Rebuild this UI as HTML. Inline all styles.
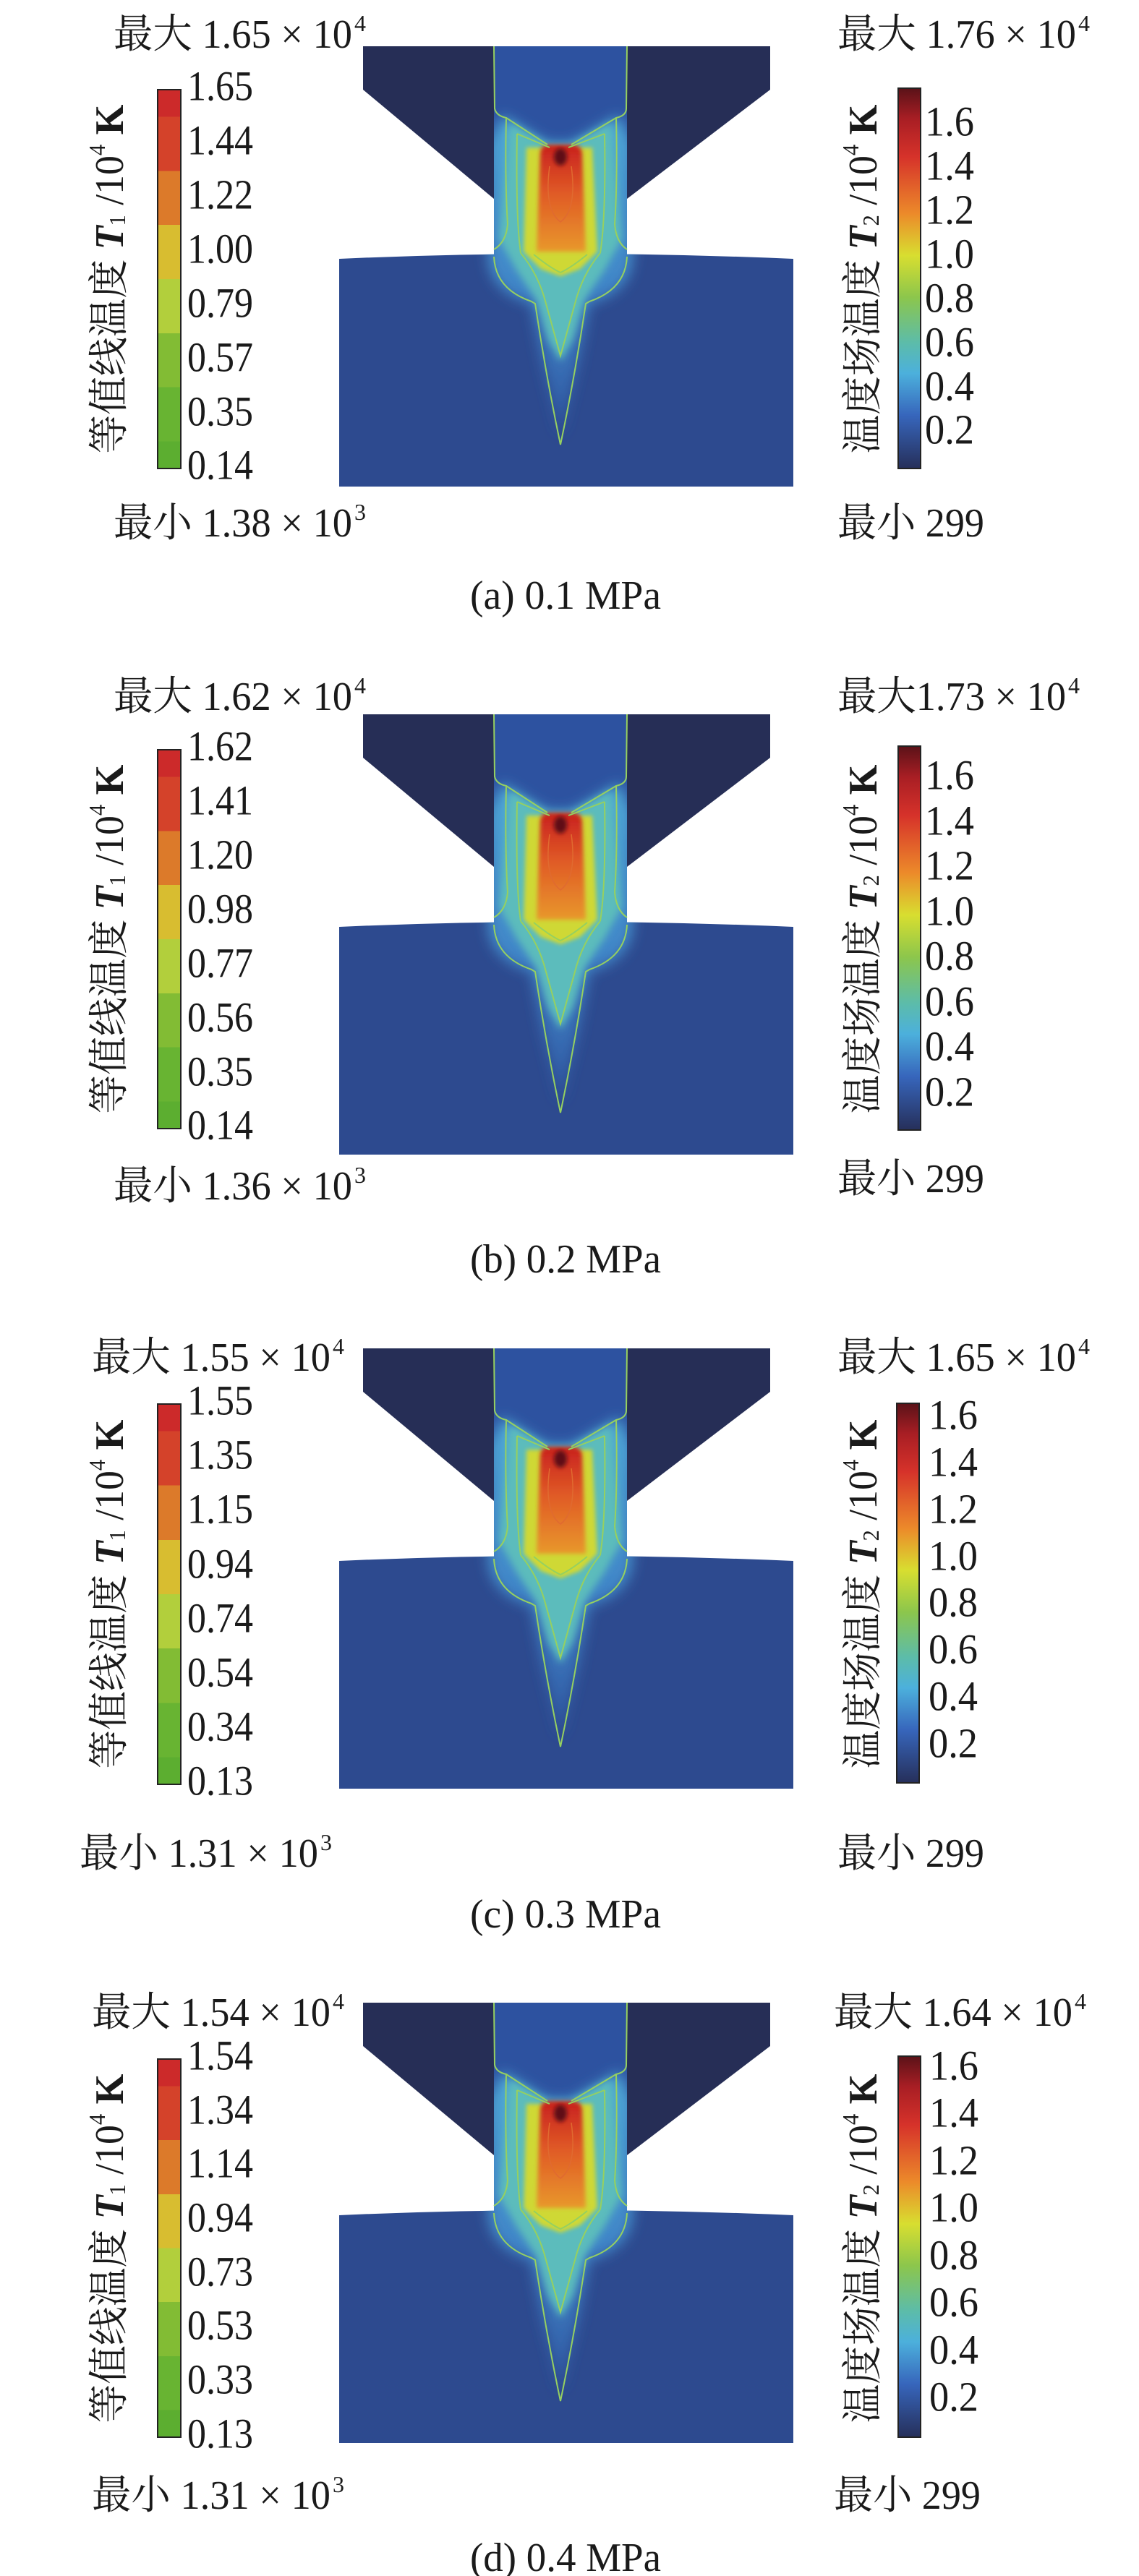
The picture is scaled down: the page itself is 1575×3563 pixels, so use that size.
<!DOCTYPE html>
<html><head><meta charset="utf-8"><style>
html,body{margin:0;padding:0;background:#fff;}
svg{display:block;}
text{font-family:"Liberation Serif","Noto Serif CJK SC",serif;fill:#1a1a1a;}
</style></head><body>
<svg width="1575" height="3563" viewBox="0 0 1575 3563" xmlns="http://www.w3.org/2000/svg">
<defs>
<filter id="b8" x="-50%" y="-50%" width="200%" height="200%"><feGaussianBlur stdDeviation="9"/></filter>
<filter id="b5" x="-50%" y="-50%" width="200%" height="200%"><feGaussianBlur stdDeviation="5"/></filter>
<filter id="b3" x="-50%" y="-50%" width="200%" height="200%"><feGaussianBlur stdDeviation="3"/></filter>
<clipPath id="dom"><rect x="683" y="64" width="184" height="290"/><path d="M469,358 Q775,344 1097,358 L1097,673 L469,673 Z"/></clipPath>
<linearGradient id="lb" x1="0" y1="0" x2="0" y2="1">
<stop offset="0" stop-color="#cc2a2a"/><stop offset="0.0714" stop-color="#cc2a2a"/>
<stop offset="0.0714" stop-color="#d4422a"/><stop offset="0.2143" stop-color="#d4422a"/>
<stop offset="0.2143" stop-color="#dc7a2a"/><stop offset="0.3571" stop-color="#dc7a2a"/>
<stop offset="0.3571" stop-color="#d8bd30"/><stop offset="0.5" stop-color="#d8bd30"/>
<stop offset="0.5" stop-color="#b2cf3c"/><stop offset="0.6429" stop-color="#b2cf3c"/>
<stop offset="0.6429" stop-color="#82bc34"/><stop offset="0.7857" stop-color="#82bc34"/>
<stop offset="0.7857" stop-color="#68b432"/><stop offset="0.9286" stop-color="#68b432"/>
<stop offset="0.9286" stop-color="#5cae30"/><stop offset="1" stop-color="#5cae30"/>
</linearGradient>
<linearGradient id="rb" x1="0" y1="0" x2="0" y2="1">
<stop offset="0" stop-color="#5a1218"/><stop offset="0.08" stop-color="#a81e24"/>
<stop offset="0.18" stop-color="#d6322a"/><stop offset="0.33" stop-color="#ec8a2a"/>
<stop offset="0.44" stop-color="#d8de30"/><stop offset="0.55" stop-color="#8cc64c"/>
<stop offset="0.67" stop-color="#5cbcaa"/><stop offset="0.75" stop-color="#4cb0dc"/>
<stop offset="0.86" stop-color="#3766bc"/><stop offset="1" stop-color="#262f5a"/>
</linearGradient>
<linearGradient id="core" x1="0" y1="0" x2="0" y2="1">
<stop offset="0" stop-color="#c8201e"/><stop offset="0.45" stop-color="#e05a26"/><stop offset="1" stop-color="#e8982c"/>
</linearGradient>
<linearGradient id="tail" x1="0" y1="0" x2="0" y2="1">
<stop offset="0" stop-color="#4fa8d6"/><stop offset="0.6" stop-color="#3f82c6"/><stop offset="1" stop-color="#2f56a0"/>
</linearGradient>
<g id="sim">
<path d="M469,358 Q775,344 1097,358 L1097,673 L469,673 Z" fill="#2d4a8f"/>
<path d="M502,64 L1065,64 L1065,124 L867,275 L867,350 L683,350 L683,275 L502,124 Z" fill="#262e56"/>
<rect x="683" y="64" width="184" height="288" fill="#2d52a0"/>
<g clip-path="url(#dom)">
<path d="M695,160 L757,198 L790,198 L856,160 L875,200 L875,360 Q870,405 815,420 L800,500 L775,600 L750,500 L735,420 Q680,405 675,360 L675,200 Z" fill="url(#tail)" filter="url(#b8)"/>
<path d="M705,170 L757,200 L790,200 L845,170 L860,330 L835,375 L808,415 L792,470 L775,500 L758,470 L742,415 L715,375 L690,330 Z" fill="#5cbcbc" filter="url(#b5)"/>
<path d="M728,204 L819,204 L826,348 L802,372 L775,382 L748,372 L724,348 Z" fill="#cfd836" filter="url(#b3)"/>
<path d="M747,212 Q748,200 760,200 L790,200 Q804,200 805,212 L810,348 L742,348 Z" fill="url(#core)" filter="url(#b3)"/>
<ellipse cx="775" cy="217" rx="9" ry="12" fill="#5e1016" filter="url(#b3)"/>
</g>
<g fill="none" stroke="#96d060" stroke-width="2">
<path d="M683,64 L684,150 Q686,160 700,163 L757,200 M790,200 L852,163 Q866,160 866,150 L867,64"/>
<path d="M700,163 Q698,250 702,310 Q700,335 683,345 M852,163 Q854,250 850,310 Q852,335 867,345"/>
<path d="M715,185 L760,204 M786,204 L836,185 M715,185 Q713,300 720,350 M836,185 Q838,300 830,350"/>
<path d="M683,355 Q685,400 735,417 L740,420 Q755,520 775,615 Q795,520 810,420 L815,417 Q865,400 867,355"/>
<path d="M720,350 Q745,380 755,420 L775,492 L795,420 Q805,380 830,350"/>
<path d="M738,352 Q760,370 775,377 Q790,370 812,352"/>
<path d="M760,230 Q752,290 775,307 Q798,290 790,230" stroke="#e06a30" stroke-width="1.5"/>
</g>
</g>
</defs>

<!-- Panel a -->
<use href="#sim" y="0"/>
<text x="157" y="48" font-size="56" dominant-baseline="central" textLength="330" lengthAdjust="spacingAndGlyphs">最大 1.65 × 10</text><text x="490" y="32" font-size="32" dominant-baseline="central">4</text>
<text x="1158" y="48" font-size="56" dominant-baseline="central" textLength="330" lengthAdjust="spacingAndGlyphs">最大 1.76 × 10</text><text x="1491" y="32" font-size="32" dominant-baseline="central">4</text>
<rect x="218" y="124" width="32" height="524" fill="url(#lb)" stroke="#222" stroke-width="2"/>
<g font-size="58" dominant-baseline="central">
<text x="259" y="119" textLength="91" lengthAdjust="spacingAndGlyphs">1.65</text><text x="259" y="194" textLength="91" lengthAdjust="spacingAndGlyphs">1.44</text><text x="259" y="269" textLength="91" lengthAdjust="spacingAndGlyphs">1.22</text><text x="259" y="344" textLength="91" lengthAdjust="spacingAndGlyphs">1.00</text><text x="259" y="419" textLength="91" lengthAdjust="spacingAndGlyphs">0.79</text><text x="259" y="494" textLength="91" lengthAdjust="spacingAndGlyphs">0.57</text><text x="259" y="569" textLength="91" lengthAdjust="spacingAndGlyphs">0.35</text><text x="259" y="643" textLength="91" lengthAdjust="spacingAndGlyphs">0.14</text>
</g>
<rect x="1242" y="122" width="31" height="526" fill="url(#rb)" stroke="#222" stroke-width="2"/>
<g font-size="58" dominant-baseline="central">
<text x="1279" y="168" textLength="68" lengthAdjust="spacingAndGlyphs">1.6</text><text x="1279" y="229" textLength="68" lengthAdjust="spacingAndGlyphs">1.4</text><text x="1279" y="290" textLength="68" lengthAdjust="spacingAndGlyphs">1.2</text><text x="1279" y="351" textLength="68" lengthAdjust="spacingAndGlyphs">1.0</text><text x="1279" y="412" textLength="68" lengthAdjust="spacingAndGlyphs">0.8</text><text x="1279" y="473" textLength="68" lengthAdjust="spacingAndGlyphs">0.6</text><text x="1279" y="534" textLength="68" lengthAdjust="spacingAndGlyphs">0.4</text><text x="1279" y="594" textLength="68" lengthAdjust="spacingAndGlyphs">0.2</text>
</g>
<text transform="translate(152,386) rotate(-90)" font-size="56" text-anchor="middle" dominant-baseline="central" textLength="483" lengthAdjust="spacingAndGlyphs">等值线温度 <tspan font-style="italic" font-weight="bold">T</tspan><tspan font-size="32" dy="10">1</tspan><tspan dy="-10"> /10</tspan><tspan font-size="32" dy="-18">4</tspan><tspan dy="18" font-weight="bold"> K</tspan></text>
<text transform="translate(1194,386) rotate(-90)" font-size="56" text-anchor="middle" dominant-baseline="central" textLength="483" lengthAdjust="spacingAndGlyphs">温度场温度 <tspan font-style="italic" font-weight="bold">T</tspan><tspan font-size="32" dy="10">2</tspan><tspan dy="-10"> /10</tspan><tspan font-size="32" dy="-18">4</tspan><tspan dy="18" font-weight="bold"> K</tspan></text>
<text x="157" y="724" font-size="56" dominant-baseline="central" textLength="330" lengthAdjust="spacingAndGlyphs">最小 1.38 × 10</text><text x="490" y="708" font-size="32" dominant-baseline="central">3</text>
<text x="1158" y="724" font-size="56" dominant-baseline="central" textLength="203" lengthAdjust="spacingAndGlyphs">最小 299</text>
<text x="782" y="824" font-size="56" text-anchor="middle" dominant-baseline="central" textLength="264" lengthAdjust="spacingAndGlyphs">(a) 0.1 MPa</text>

<!-- Panel b -->
<use href="#sim" y="924"/>
<text x="157" y="964" font-size="56" dominant-baseline="central" textLength="330" lengthAdjust="spacingAndGlyphs">最大 1.62 × 10</text><text x="490" y="948" font-size="32" dominant-baseline="central">4</text>
<text x="1158" y="964" font-size="56" dominant-baseline="central" textLength="316" lengthAdjust="spacingAndGlyphs">最大1.73 × 10</text><text x="1477" y="948" font-size="32" dominant-baseline="central">4</text>
<rect x="218" y="1037" width="32" height="524" fill="url(#lb)" stroke="#222" stroke-width="2"/>
<g font-size="58" dominant-baseline="central">
<text x="259" y="1032" textLength="91" lengthAdjust="spacingAndGlyphs">1.62</text><text x="259" y="1107" textLength="91" lengthAdjust="spacingAndGlyphs">1.41</text><text x="259" y="1182" textLength="91" lengthAdjust="spacingAndGlyphs">1.20</text><text x="259" y="1257" textLength="91" lengthAdjust="spacingAndGlyphs">0.98</text><text x="259" y="1332" textLength="91" lengthAdjust="spacingAndGlyphs">0.77</text><text x="259" y="1407" textLength="91" lengthAdjust="spacingAndGlyphs">0.56</text><text x="259" y="1482" textLength="91" lengthAdjust="spacingAndGlyphs">0.35</text><text x="259" y="1556" textLength="91" lengthAdjust="spacingAndGlyphs">0.14</text>
</g>
<rect x="1242" y="1032" width="31" height="531" fill="url(#rb)" stroke="#222" stroke-width="2"/>
<g font-size="58" dominant-baseline="central">
<text x="1279" y="1072" textLength="68" lengthAdjust="spacingAndGlyphs">1.6</text><text x="1279" y="1135" textLength="68" lengthAdjust="spacingAndGlyphs">1.4</text><text x="1279" y="1197" textLength="68" lengthAdjust="spacingAndGlyphs">1.2</text><text x="1279" y="1260" textLength="68" lengthAdjust="spacingAndGlyphs">1.0</text><text x="1279" y="1322" textLength="68" lengthAdjust="spacingAndGlyphs">0.8</text><text x="1279" y="1385" textLength="68" lengthAdjust="spacingAndGlyphs">0.6</text><text x="1279" y="1447" textLength="68" lengthAdjust="spacingAndGlyphs">0.4</text><text x="1279" y="1510" textLength="68" lengthAdjust="spacingAndGlyphs">0.2</text>
</g>
<text transform="translate(152,1299) rotate(-90)" font-size="56" text-anchor="middle" dominant-baseline="central" textLength="483" lengthAdjust="spacingAndGlyphs">等值线温度 <tspan font-style="italic" font-weight="bold">T</tspan><tspan font-size="32" dy="10">1</tspan><tspan dy="-10"> /10</tspan><tspan font-size="32" dy="-18">4</tspan><tspan dy="18" font-weight="bold"> K</tspan></text>
<text transform="translate(1194,1299) rotate(-90)" font-size="56" text-anchor="middle" dominant-baseline="central" textLength="483" lengthAdjust="spacingAndGlyphs">温度场温度 <tspan font-style="italic" font-weight="bold">T</tspan><tspan font-size="32" dy="10">2</tspan><tspan dy="-10"> /10</tspan><tspan font-size="32" dy="-18">4</tspan><tspan dy="18" font-weight="bold"> K</tspan></text>
<text x="157" y="1641" font-size="56" dominant-baseline="central" textLength="330" lengthAdjust="spacingAndGlyphs">最小 1.36 × 10</text><text x="490" y="1625" font-size="32" dominant-baseline="central">3</text>
<text x="1158" y="1631" font-size="56" dominant-baseline="central" textLength="203" lengthAdjust="spacingAndGlyphs">最小 299</text>
<text x="782" y="1742" font-size="56" text-anchor="middle" dominant-baseline="central" textLength="264" lengthAdjust="spacingAndGlyphs">(b) 0.2 MPa</text>

<!-- Panel c -->
<use href="#sim" y="1801"/>
<text x="127" y="1878" font-size="56" dominant-baseline="central" textLength="330" lengthAdjust="spacingAndGlyphs">最大 1.55 × 10</text><text x="460" y="1862" font-size="32" dominant-baseline="central">4</text>
<text x="1158" y="1878" font-size="56" dominant-baseline="central" textLength="330" lengthAdjust="spacingAndGlyphs">最大 1.65 × 10</text><text x="1491" y="1862" font-size="32" dominant-baseline="central">4</text>
<rect x="218" y="1942" width="32" height="526" fill="url(#lb)" stroke="#222" stroke-width="2"/>
<g font-size="58" dominant-baseline="central">
<text x="259" y="1937" textLength="91" lengthAdjust="spacingAndGlyphs">1.55</text><text x="259" y="2012" textLength="91" lengthAdjust="spacingAndGlyphs">1.35</text><text x="259" y="2087" textLength="91" lengthAdjust="spacingAndGlyphs">1.15</text><text x="259" y="2163" textLength="91" lengthAdjust="spacingAndGlyphs">0.94</text><text x="259" y="2238" textLength="91" lengthAdjust="spacingAndGlyphs">0.74</text><text x="259" y="2313" textLength="91" lengthAdjust="spacingAndGlyphs">0.54</text><text x="259" y="2388" textLength="91" lengthAdjust="spacingAndGlyphs">0.34</text><text x="259" y="2463" textLength="91" lengthAdjust="spacingAndGlyphs">0.13</text>
</g>
<rect x="1240" y="1941" width="31" height="525" fill="url(#rb)" stroke="#222" stroke-width="2"/>
<g font-size="58" dominant-baseline="central">
<text x="1284" y="1957" textLength="68" lengthAdjust="spacingAndGlyphs">1.6</text><text x="1284" y="2022" textLength="68" lengthAdjust="spacingAndGlyphs">1.4</text><text x="1284" y="2087" textLength="68" lengthAdjust="spacingAndGlyphs">1.2</text><text x="1284" y="2152" textLength="68" lengthAdjust="spacingAndGlyphs">1.0</text><text x="1284" y="2216" textLength="68" lengthAdjust="spacingAndGlyphs">0.8</text><text x="1284" y="2281" textLength="68" lengthAdjust="spacingAndGlyphs">0.6</text><text x="1284" y="2346" textLength="68" lengthAdjust="spacingAndGlyphs">0.4</text><text x="1284" y="2411" textLength="68" lengthAdjust="spacingAndGlyphs">0.2</text>
</g>
<text transform="translate(152,2205) rotate(-90)" font-size="56" text-anchor="middle" dominant-baseline="central" textLength="483" lengthAdjust="spacingAndGlyphs">等值线温度 <tspan font-style="italic" font-weight="bold">T</tspan><tspan font-size="32" dy="10">1</tspan><tspan dy="-10"> /10</tspan><tspan font-size="32" dy="-18">4</tspan><tspan dy="18" font-weight="bold"> K</tspan></text>
<text transform="translate(1194,2205) rotate(-90)" font-size="56" text-anchor="middle" dominant-baseline="central" textLength="483" lengthAdjust="spacingAndGlyphs">温度场温度 <tspan font-style="italic" font-weight="bold">T</tspan><tspan font-size="32" dy="10">2</tspan><tspan dy="-10"> /10</tspan><tspan font-size="32" dy="-18">4</tspan><tspan dy="18" font-weight="bold"> K</tspan></text>
<text x="110" y="2564" font-size="56" dominant-baseline="central" textLength="330" lengthAdjust="spacingAndGlyphs">最小 1.31 × 10</text><text x="443" y="2548" font-size="32" dominant-baseline="central">3</text>
<text x="1158" y="2564" font-size="56" dominant-baseline="central" textLength="203" lengthAdjust="spacingAndGlyphs">最小 299</text>
<text x="782" y="2648" font-size="56" text-anchor="middle" dominant-baseline="central" textLength="264" lengthAdjust="spacingAndGlyphs">(c) 0.3 MPa</text>

<!-- Panel d -->
<use href="#sim" y="2706"/>
<text x="127" y="2784" font-size="56" dominant-baseline="central" textLength="330" lengthAdjust="spacingAndGlyphs">最大 1.54 × 10</text><text x="460" y="2768" font-size="32" dominant-baseline="central">4</text>
<text x="1153" y="2784" font-size="56" dominant-baseline="central" textLength="330" lengthAdjust="spacingAndGlyphs">最大 1.64 × 10</text><text x="1486" y="2768" font-size="32" dominant-baseline="central">4</text>
<rect x="218" y="2848" width="32" height="523" fill="url(#lb)" stroke="#222" stroke-width="2"/>
<g font-size="58" dominant-baseline="central">
<text x="259" y="2843" textLength="91" lengthAdjust="spacingAndGlyphs">1.54</text><text x="259" y="2918" textLength="91" lengthAdjust="spacingAndGlyphs">1.34</text><text x="259" y="2992" textLength="91" lengthAdjust="spacingAndGlyphs">1.14</text><text x="259" y="3067" textLength="91" lengthAdjust="spacingAndGlyphs">0.94</text><text x="259" y="3142" textLength="91" lengthAdjust="spacingAndGlyphs">0.73</text><text x="259" y="3216" textLength="91" lengthAdjust="spacingAndGlyphs">0.53</text><text x="259" y="3291" textLength="91" lengthAdjust="spacingAndGlyphs">0.33</text><text x="259" y="3366" textLength="91" lengthAdjust="spacingAndGlyphs">0.13</text>
</g>
<rect x="1242" y="2844" width="31" height="527" fill="url(#rb)" stroke="#222" stroke-width="2"/>
<g font-size="58" dominant-baseline="central">
<text x="1285" y="2857" textLength="68" lengthAdjust="spacingAndGlyphs">1.6</text><text x="1285" y="2922" textLength="68" lengthAdjust="spacingAndGlyphs">1.4</text><text x="1285" y="2988" textLength="68" lengthAdjust="spacingAndGlyphs">1.2</text><text x="1285" y="3053" textLength="68" lengthAdjust="spacingAndGlyphs">1.0</text><text x="1285" y="3119" textLength="68" lengthAdjust="spacingAndGlyphs">0.8</text><text x="1285" y="3184" textLength="68" lengthAdjust="spacingAndGlyphs">0.6</text><text x="1285" y="3250" textLength="68" lengthAdjust="spacingAndGlyphs">0.4</text><text x="1285" y="3315" textLength="68" lengthAdjust="spacingAndGlyphs">0.2</text>
</g>
<text transform="translate(152,3110) rotate(-90)" font-size="56" text-anchor="middle" dominant-baseline="central" textLength="483" lengthAdjust="spacingAndGlyphs">等值线温度 <tspan font-style="italic" font-weight="bold">T</tspan><tspan font-size="32" dy="10">1</tspan><tspan dy="-10"> /10</tspan><tspan font-size="32" dy="-18">4</tspan><tspan dy="18" font-weight="bold"> K</tspan></text>
<text transform="translate(1194,3110) rotate(-90)" font-size="56" text-anchor="middle" dominant-baseline="central" textLength="483" lengthAdjust="spacingAndGlyphs">温度场温度 <tspan font-style="italic" font-weight="bold">T</tspan><tspan font-size="32" dy="10">2</tspan><tspan dy="-10"> /10</tspan><tspan font-size="32" dy="-18">4</tspan><tspan dy="18" font-weight="bold"> K</tspan></text>
<text x="127" y="3452" font-size="56" dominant-baseline="central" textLength="330" lengthAdjust="spacingAndGlyphs">最小 1.31 × 10</text><text x="460" y="3436" font-size="32" dominant-baseline="central">3</text>
<text x="1153" y="3452" font-size="56" dominant-baseline="central" textLength="203" lengthAdjust="spacingAndGlyphs">最小 299</text>
<text x="782" y="3538" font-size="56" text-anchor="middle" dominant-baseline="central" textLength="264" lengthAdjust="spacingAndGlyphs">(d) 0.4 MPa</text>
</svg>
</body></html>
